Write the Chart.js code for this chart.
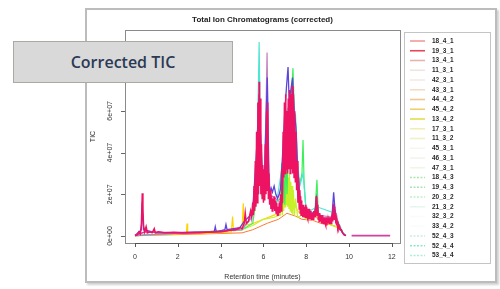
<!DOCTYPE html>
<html>
<head>
<meta charset="utf-8">
<script src="https://cdn.jsdelivr.net/npm/chart.js@4.4.1/dist/chart.umd.min.js"></script>
<style>
  html, body { margin:0; padding:0; background:#ffffff; }
  body { width:500px; height:289px; position:relative; overflow:hidden; }
  #frame { position:absolute; left:85px; top:8px; width:408px; height:271px;
           border:2px solid #bcbcbc; box-shadow:2px 2px 2px #d0d0d0; background:#fff; }
  #wrap { position:absolute; left:0; top:0; width:500px; height:289px; }
  #c { filter: blur(0.45px); }
  #badge { position:absolute; left:13px; top:41px; width:218px; height:40px;
           background:#d9d9d9; border:1px solid #aaa9a2;
           font-family:"Open Sans", "Liberation Sans", sans-serif; font-weight:600;
           font-size:16px; color:#2b3a55; display:flex; align-items:center; justify-content:center; }
</style>
</head>
<body>
<div id="frame"></div>
<div id="wrap"><canvas id="c" width="500" height="289"></canvas></div>
<div id="badge">Corrected TIC</div>
<script>
// ---------------- DATA (time in minutes, TIC in units of 1e7) ----------------
const chartTitle = "Total Ion Chromatograms (corrected)";
const xTitle = "Retention time (minutes)";
const yTitle = "TIC";
const xTicks = [0, 2, 4, 6, 8, 10, 12];
const yTicks = [0, 2, 4, 6, 8];
const yTickLabels = ["0e+00", "2e+07", "4e+07", "6e+07", "8e+07"];

const legendLabels = ["18_4_1","19_3_1","13_4_1","11_3_1","42_3_1","43_3_1","44_4_2","45_4_2",
  "13_4_2","17_3_1","11_3_2","45_3_1","46_3_1","47_3_1","18_4_3","19_4_3","20_3_2","21_3_2",
  "32_3_2","33_4_2","52_4_3","52_4_4","53_4_4"];
const legendColors = ["#f29a9a","#e8465a","#e6b2b2","#f2e2e2","#f6eae6","#f6dac6","#f2c68e","#eecf6e",
  "#e2de4e","#eeeeb6","#eef2c6","#f6f6ee","#f2f6ea","#eef6ea","#ace6ac","#a6e6ae","#bfeec6","#e6f6ee",
  "#fbfbfb","#fbfbfb","#c6eede","#8ee6c6","#a6eede"];
const legendDashed = [0,0,0,0,0,0,0,0,0,0,0,0,0,0,1,1,1,0,0,0,1,1,1];

const redTIC = [[0,0.02],[0.1,0.05],[0.18,0.2],[0.25,0.1],[0.3,0.6],[0.34,2.05],[0.37,1.2],[0.4,0.5],
 [0.45,0.2],[0.52,0.45],[0.58,0.15],[0.7,0.2],[0.8,0.15],[0.9,0.35],[0.95,0.15],[1.1,0.2],[1.4,0.15],
 [1.8,0.18],[2.2,0.15],[2.6,0.17],[3.0,0.15],[3.4,0.18],[3.8,0.2],[4.1,0.22],[4.4,0.28],[4.7,0.3],
 [4.9,0.4],[5.0,0.35],[5.1,0.6],[5.15,1.1],[5.2,0.6],[5.3,0.7],[5.4,1.2],[5.45,0.9],
 [5.5,1.6],[5.53,1.0],[5.56,2.4],[5.59,1.2],[5.62,3.6],[5.65,1.4],[5.68,5.0],[5.71,1.6],[5.74,6.4],
 [5.77,2.0],[5.8,7.4],[5.82,2.4],[5.85,6.6],[5.88,2.0],[5.91,4.4],[5.94,1.8],[5.97,3.4],[6.0,1.6],
 [6.03,3.2],[6.06,1.7],[6.09,4.4],[6.12,2.0],[6.15,6.0],[6.18,2.2],[6.2,6.4],[6.23,1.8],[6.26,3.0],
 [6.29,1.5],[6.32,2.2],[6.35,1.3],[6.38,1.9],[6.41,1.2],[6.44,1.8],[6.47,1.3],[6.5,1.9],[6.53,1.2],
 [6.56,1.7],[6.59,1.1],[6.62,1.6],[6.65,1.0],[6.68,1.4],[6.71,1.0],[6.74,1.6],[6.77,1.1],[6.8,2.0],
 [6.83,1.2],[6.86,3.2],[6.89,1.6],[6.92,5.0],[6.95,2.8],[6.98,6.4],[7.01,3.0],[7.04,6.8],[7.07,3.2],
 [7.1,6.0],[7.13,3.0],[7.16,6.6],[7.19,3.2],[7.22,7.0],[7.25,3.0],[7.28,6.8],[7.31,3.2],[7.34,7.2],
 [7.37,3.0],[7.4,6.8],[7.43,2.8],[7.46,6.0],[7.49,2.6],[7.52,5.0],[7.55,2.2],[7.58,3.6],[7.61,1.6],
 [7.64,2.8],[7.67,1.3],[7.7,2.2],[7.72,1.1],[7.74,1.9],[7.76,1.0],[7.78,1.7],[7.8,1.0],[7.82,1.5],
 [7.84,0.9],[7.86,1.5],[7.88,0.9],[7.9,1.4],[7.92,0.9],[7.94,1.4],[7.96,0.9],[7.98,1.5],[8.0,0.9],
 [8.02,1.4],[8.04,0.9],[8.06,1.3],[8.08,0.8],[8.1,1.3],[8.12,0.8],[8.14,1.3],[8.16,0.8],[8.18,1.2],
 [8.2,0.8],[8.22,1.2],[8.24,0.8],[8.26,1.1],[8.28,0.8],[8.3,1.1],[8.32,0.8],[8.34,1.2],[8.36,0.8],
 [8.38,1.2],[8.4,0.9],[8.42,1.3],[8.44,0.9],[8.46,1.9],[8.48,1.0],[8.5,1.8],[8.52,1.0],[8.54,1.5],
 [8.56,0.8],[8.58,1.1],[8.6,0.7],[8.62,1.1],[8.64,0.7],[8.66,1.0],[8.68,0.7],[8.7,1.0],[8.72,0.6],
 [8.74,1.0],[8.76,0.6],[8.78,0.9],[8.8,0.6],[8.82,0.9],[8.84,0.6],[8.86,0.9],[8.88,0.6],[8.9,0.9],
 [8.92,0.5],[8.94,0.9],[8.96,0.5],[8.98,0.8],[9.0,0.6],[9.02,0.8],[9.04,0.6],[9.06,0.9],[9.08,0.6],
 [9.1,0.9],[9.12,0.6],[9.14,0.9],[9.16,0.6],[9.18,1.0],[9.2,0.7],[9.22,1.1],[9.24,0.7],[9.26,1.3],
 [9.28,1.55],[9.3,0.8],[9.32,1.4],[9.34,0.8],[9.36,1.1],[9.38,0.6],[9.4,0.8],[9.42,0.5],[9.44,0.7],
 [9.47,0.4],[9.5,0.55],[9.53,0.35],[9.56,0.45],[9.6,0.3],[9.64,0.3],[9.7,0.15],[9.76,0.06],[9.85,0.02]];

const blueTIC = [[0,0.02],[0.3,0.3],[0.34,1.6],[0.4,0.3],[1,0.15],[3.7,0.2],[3.75,0.45],[3.8,0.2],
 [4.2,0.3],[4.25,0.55],[4.3,0.3],[4.9,0.4],[5.1,0.7],[5.4,1.0],[5.5,1.3],[5.6,2.8],[5.7,4.5],[5.8,6.8],
 [5.86,5.0],[5.95,3.0],[6.05,2.8],[6.12,5.5],[6.18,7.6],[6.24,3.0],[6.3,2.0],[6.36,2.3],[6.42,2.1],
 [6.5,2.4],[6.58,2.0],[6.66,1.8],[6.74,2.0],[6.8,2.3],[6.9,4.0],[7.0,6.0],[7.08,7.2],[7.15,8.1],
 [7.2,6.5],[7.28,7.0],[7.36,7.6],[7.44,6.0],[7.52,5.2],[7.6,3.2],[7.7,1.9],[7.8,1.3],[8.0,1.2],
 [8.2,1.1],[8.4,1.1],[8.48,1.8],[8.55,1.1],[8.8,0.8],[9.0,0.7],[9.2,0.9],[9.28,2.1],[9.34,1.3],
 [9.45,0.6],[9.6,0.3],[9.76,0.06],[9.85,0.02]];

const cyanTIC = [[0,0.02],[5.0,0.3],[5.4,0.8],[5.6,2.0],[5.7,4.0],[5.76,7.0],[5.8,9.3],[5.84,6.0],
 [5.9,3.0],[6.1,3.0],[6.17,6.0],[6.25,2.0],[6.6,1.5],[6.9,3.5],[7.1,6.0],[7.3,6.5],[7.5,5.8],[7.6,3.5],
 [7.7,2.4],[7.85,3.0],[8.0,1.1],[8.5,1.4],[9.3,1.1],[9.7,0.2],[9.85,0.02]];

const lilacTIC = [[0,0.02],[5.0,0.3],[5.5,1.0],[5.7,3.5],[5.8,6.0],[5.9,3.0],[6.05,3.0],[6.12,6.0],
 [6.17,8.8],[6.22,5.0],[6.3,2.0],[6.8,1.6],[7.2,5.0],[7.5,4.0],[7.7,1.5],[8.5,1.0],[9.3,0.9],
 [9.7,0.15],[9.85,0.02]];

const greenTIC = [[0,0.02],[5.0,0.3],[5.5,0.6],[5.7,2.0],[5.8,4.0],[5.9,2.0],[6.2,3.0],[6.4,1.5],
 [6.8,1.8],[6.85,3.5],[6.9,1.5],[6.95,3.0],[7.0,1.5],[7.05,4.0],[7.1,2.0],[7.2,5.0],[7.3,6.5],
 [7.38,8.05],[7.44,6.0],[7.5,3.5],[7.6,2.0],[7.7,2.5],[7.8,3.0],[7.85,4.6],[7.9,2.6],[8.0,1.1],
 [8.2,0.9],[8.4,1.1],[8.5,2.7],[8.56,1.1],[8.8,0.8],[9.2,0.8],[9.3,1.5],[9.4,0.7],[9.7,0.15],[9.85,0.02]];

const limeTIC = [[0,0.02],[5.0,0.3],[5.5,0.5],[6.0,0.8],[6.5,0.9],[6.8,1.0],[6.86,2.0],[6.89,1.0],
 [6.92,2.6],[6.95,1.2],[6.98,3.2],[7.01,1.4],[7.04,3.6],[7.07,1.5],[7.1,3.2],[7.13,1.4],[7.16,2.8],
 [7.19,1.3],[7.22,3.0],[7.25,1.2],[7.28,2.6],[7.31,1.1],[7.34,2.4],[7.37,1.0],[7.4,2.2],[7.45,1.0],
 [7.5,1.8],[7.6,0.9],[7.8,1.0],[8.0,0.8],[8.5,1.2],[9.0,0.6],[9.5,0.4],[9.85,0.02]];

const yellowTIC = [[0,0.02],[2.0,0.1],[2.4,0.12],[2.43,0.6],[2.46,0.12],[3.0,0.1],[4.5,0.2],[4.56,0.93],
 [4.6,0.25],[5.0,0.3],[5.06,1.57],[5.1,0.5],[5.5,0.6],[6.0,0.8],[6.5,1.0],[6.8,1.2],[7.0,2.0],
 [7.2,2.5],[7.4,1.6],[7.6,1.2],[7.8,1.0],[8.0,0.9],[8.3,1.0],[8.6,0.8],[9.0,0.6],[9.5,0.4],[9.85,0.02]];

const orangeTIC = [[0,0.01],[5.0,0.15],[5.5,0.3],[6.2,0.62],[6.7,0.8],[7.1,1.09],[7.5,0.95],[7.8,0.8],
 [8.3,0.75],[8.7,0.6],[9.1,0.55],[9.4,0.45],[9.7,0.2],[9.85,0.01]];

const magentaTIC = [[0,0.04],[0.5,0.2],[2,0.14],[4,0.2],[4.9,0.35],[5.0,null],[10.12,0.02],[11.92,0.02]];

const seriesList = [
  { label:"red",     data:redTIC,     color:"#ee1262", width:1.5 },
  { label:"magenta", data:magentaTIC, color:"#d4409c", width:1.6 },
  { label:"blue",    data:blueTIC,    color:"#5a46dc", width:1.3 },
  { label:"lilac",   data:lilacTIC,   color:"#c47cbc", width:1.2 },
  { label:"cyan",    data:cyanTIC,    color:"#4ce6d2", width:1.2 },
  { label:"green",   data:greenTIC,   color:"#3cf05a", width:1.2 },
  { label:"lime",    data:limeTIC,    color:"#c8f028", width:1.2 },
  { label:"yellow",  data:yellowTIC,  color:"#ffd400", width:1.2 },
  { label:"orange",  data:orangeTIC,  color:"#ff7a34", width:1.0 }
];

// ---------------- CHART ----------------
const datasets = seriesList.map((s, i) => ({
  label: s.label,
  data: s.data.map(p => ({ x: p[0], y: p[1] })),
  borderColor: s.color,
  borderWidth: s.width,
  pointRadius: 0,
  tension: 0,
  spanGaps: false,
  fill: false,
  order: i
}));

const FONT = '"Liberation Sans", Arial, sans-serif';

const decor = {
  id: 'decor',
  afterDraw(chart) {
    const { ctx, chartArea: a, scales } = chart;
    const xs = scales.x, ys = scales.y;
    ctx.save();
    // plot box
    ctx.strokeStyle = '#8a8a8a';
    ctx.lineWidth = 1;
    ctx.strokeRect(a.left + 0.5, a.top + 0.5, a.right - a.left, a.bottom - a.top);
    // x axis
    ctx.strokeStyle = '#555';
    ctx.beginPath();
    const x0 = xs.getPixelForValue(xTicks[0]), x1 = xs.getPixelForValue(xTicks[xTicks.length-1]);
    ctx.moveTo(x0, a.bottom + 0.5); ctx.lineTo(x1, a.bottom + 0.5);
    xTicks.forEach(t => {
      const px = Math.round(xs.getPixelForValue(t)) + 0.5;
      ctx.moveTo(px, a.bottom); ctx.lineTo(px, a.bottom + 4);
    });
    ctx.stroke();
    ctx.fillStyle = '#333';
    ctx.font = '7px ' + FONT;
    ctx.textAlign = 'center'; ctx.textBaseline = 'middle';
    xTicks.forEach(t => ctx.fillText(String(t), xs.getPixelForValue(t), 257));
    // y axis
    ctx.strokeStyle = '#666';
    ctx.beginPath();
    yTicks.forEach(v => {
      const py = Math.round(ys.getPixelForValue(v)) + 0.5;
      ctx.moveTo(a.left, py); ctx.lineTo(a.left - 4, py);
    });
    ctx.stroke();
    yTickLabels.forEach((lab, i) => {
      const py = ys.getPixelForValue(yTicks[i]);
      ctx.save(); ctx.translate(110, py); ctx.rotate(-Math.PI/2);
      ctx.fillText(lab, 0, 0); ctx.restore();
    });
    // axis titles
    ctx.font = '7px ' + FONT;
    ctx.fillText(xTitle, (a.left + a.right)/2, 277);
    ctx.save(); ctx.translate(93, (a.top + a.bottom)/2); ctx.rotate(-Math.PI/2);
    ctx.fillText(yTitle, 0, 0); ctx.restore();
    // title
    ctx.font = 'bold 8px ' + FONT;
    ctx.fillStyle = '#222';
    ctx.fillText(chartTitle, (a.left + a.right)/2, 20);
    // legend
    const lx = 404, ly = 32, lw = 86, lh = 231;
    ctx.fillStyle = '#fff';
    ctx.fillRect(lx, ly, lw, lh);
    ctx.strokeStyle = '#c4c4c4';
    ctx.strokeRect(lx + 0.5, ly + 0.5, lw, lh);
    ctx.font = 'bold 6.5px ' + FONT;
    ctx.textAlign = 'left';
    legendLabels.forEach((lab, i) => {
      const y = 41 + i * 9.75;
      ctx.strokeStyle = legendColors[i];
      ctx.lineWidth = 1.6;
      ctx.setLineDash(legendDashed[i] ? [2, 1.5] : []);
      ctx.beginPath(); ctx.moveTo(410, y); ctx.lineTo(425, y); ctx.stroke();
      ctx.fillStyle = '#2a2a2a';
      ctx.fillText(lab, 432, y);
    });
    ctx.restore();
  }
};

new Chart(document.getElementById('c'), {
  type: 'line',
  data: { datasets },
  options: {
    responsive: false,
    animation: false,
    layout: { padding: { left: 125, top: 30, right: 100, bottom: 46 } },
    plugins: { legend: { display: false }, tooltip: { enabled: false }, title: { display: false } },
    scales: {
      x: { type: 'linear', min: -0.467, max: 12.38, display: false },
      y: { type: 'linear', min: -0.336, max: 9.88, display: false }
    }
  },
  plugins: [decor]
});
</script>
</body>
</html>
